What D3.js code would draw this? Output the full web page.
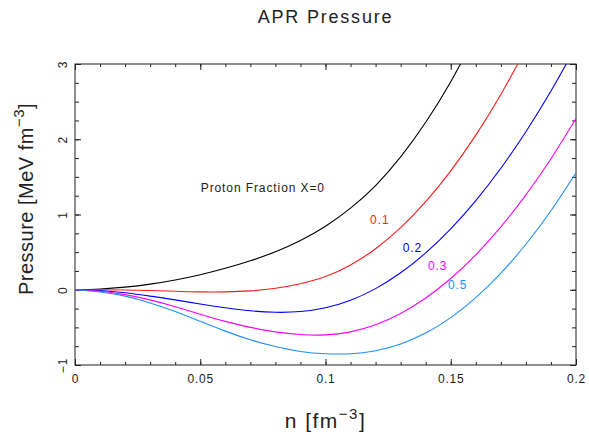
<!DOCTYPE html>
<html>
<head>
<meta charset="utf-8">
<script src="https://cdn.jsdelivr.net/npm/d3@7"></script>
<style>
  body { margin: 0; background: #fff; }
  svg { display: block; font-family: "Liberation Sans", Arial, sans-serif; }
  .axis path { display: none; }
  .axis line { stroke: #222; stroke-width: 1; }
  .axis text { fill: #222; font-size: 12px; letter-spacing: 0.8px; font-family: "Liberation Sans", Arial, sans-serif; }
</style>
</head>
<body>
<svg></svg>
<script>
// density grid, fm^-3
var density = [0, 0.01, 0.02, 0.03, 0.04, 0.05, 0.06, 0.07, 0.08, 0.09, 0.1,
               0.11, 0.12, 0.13, 0.14, 0.15, 0.16, 0.17, 0.18, 0.19, 0.2];

// pressure, MeV fm^-3, one list per proton fraction
var pX0  = [0, 0.01, 0.035, 0.075, 0.13, 0.2, 0.285, 0.385, 0.505, 0.655, 0.845, 1.085, 1.385, 1.765, 2.225, 2.765, 3.385];
var pX01 = [0, 0, -0.003, -0.01, -0.02, -0.028, -0.028, -0.015, 0.02, 0.08, 0.175, 0.33, 0.545, 0.825, 1.17, 1.58, 2.055, 2.595, 3.2];
var pX02 = [0, -0.01, -0.04, -0.085, -0.135, -0.19, -0.24, -0.28, -0.30, -0.29, -0.24, -0.14, 0.015, 0.225, 0.49, 0.81, 1.185, 1.615, 2.1, 2.64, 3.235];
var pX03 = [0, -0.02, -0.065, -0.135, -0.225, -0.325, -0.42, -0.50, -0.56, -0.595, -0.60, -0.56, -0.465, -0.315, -0.11, 0.15, 0.465, 0.835, 1.26, 1.74, 2.275];
var pX05 = [0, -0.03, -0.085, -0.175, -0.29, -0.42, -0.55, -0.665, -0.755, -0.82, -0.85, -0.85, -0.81, -0.72, -0.575, -0.37, -0.105, 0.22, 0.605, 1.05, 1.555];

var fractionLabels = ["Proton Fraction X=0", "0.1", "0.2", "0.3", "0.5"];

var xTicks = [0, 0.05, 0.1, 0.15, 0.2];
var xTickLabels = ["0", "0.05", "0.1", "0.15", "0.2"];
var yTicks = [-1, 0, 1, 2, 3];
var yTickLabels = ["\u22121", "0", "1", "2", "3"];

var width = 589, height = 435;
var plotL = 75, plotR = 576, plotT = 64, plotB = 365;

var svg = d3.select("svg").attr("width", width).attr("height", height);

var x = d3.scaleLinear().domain([0, 0.2]).range([plotL, plotR]);
var y = d3.scaleLinear().domain([-1, 3]).range([plotB, plotT]);

var xMinor = d3.range(0, 0.2001, 0.01);
var yMinor = d3.range(-1, 3.001, 0.25);

// minor ticks (inward)
svg.append("g").attr("class", "axis").attr("transform", "translate(0," + plotB + ")")
    .call(d3.axisBottom(x).tickValues(xMinor).tickSize(-3).tickFormat(""));
svg.append("g").attr("class", "axis").attr("transform", "translate(0," + plotT + ")")
    .call(d3.axisTop(x).tickValues(xMinor).tickSize(-3).tickFormat(""));
svg.append("g").attr("class", "axis").attr("transform", "translate(" + plotL + ",0)")
    .call(d3.axisLeft(y).tickValues(yMinor).tickSize(-4).tickFormat(""));
svg.append("g").attr("class", "axis").attr("transform", "translate(" + plotR + ",0)")
    .call(d3.axisRight(y).tickValues(yMinor).tickSize(-4).tickFormat(""));

// major ticks with labels
svg.append("g").attr("class", "axis").attr("transform", "translate(0," + plotB + ")")
    .call(d3.axisBottom(x).tickValues(xTicks).tickSize(-6).tickPadding(9)
        .tickFormat(function (d, i) { return xTickLabels[i]; }));
svg.append("g").attr("class", "axis").attr("transform", "translate(0," + plotT + ")")
    .call(d3.axisTop(x).tickValues(xTicks).tickSize(-6).tickFormat(""));
var yAxis = svg.append("g").attr("class", "axis").attr("transform", "translate(" + plotL + ",0)")
    .call(d3.axisLeft(y).tickValues(yTicks).tickSize(-6)
        .tickFormat(function (d, i) { return yTickLabels[i]; }));
yAxis.selectAll("text")
    .attr("x", null).attr("dy", null)
    .attr("text-anchor", "middle")
    .attr("transform", "translate(-8,0) rotate(-90)");
svg.append("g").attr("class", "axis").attr("transform", "translate(" + plotR + ",0)")
    .call(d3.axisRight(y).tickValues(yTicks).tickSize(-6).tickFormat(""));

// frame
svg.append("rect")
    .attr("x", plotL).attr("y", plotT)
    .attr("width", plotR - plotL).attr("height", plotB - plotT)
    .attr("fill", "none").attr("stroke", "#222").attr("stroke-width", 1);

svg.append("clipPath").attr("id", "plot")
    .append("rect").attr("x", plotL).attr("y", plotT)
    .attr("width", plotR - plotL).attr("height", plotB - plotT);

var series = [
    { values: pX0,  color: "#000000" },
    { values: pX01, color: "#ff1a1a" },
    { values: pX02, color: "#0000ff" },
    { values: pX03, color: "#ff00ff" },
    { values: pX05, color: "#1e8fff" }
];

var line = d3.line()
    .x(function (d) { return x(d[0]); })
    .y(function (d) { return y(d[1]); })
    .curve(d3.curveNatural);

svg.append("g").attr("clip-path", "url(#plot)")
    .selectAll("path")
    .data(series)
    .enter()
    .append("path")
    .attr("d", function (s) {
        return line(s.values.map(function (v, i) { return [density[i], v]; }));
    })
    .attr("fill", "none")
    .attr("stroke", function (s) { return s.color; })
    .attr("stroke-width", 1.1);

// curve labels
var labelAt = [[0.0502, 1.30], [0.1178, 0.88], [0.1308, 0.50], [0.1409, 0.26], [0.1489, 0.01]];
svg.selectAll("text.curve")
    .data(fractionLabels)
    .enter()
    .append("text")
    .attr("class", "curve")
    .attr("x", function (d, i) { return x(labelAt[i][0]); })
    .attr("y", function (d, i) { return y(labelAt[i][1]); })
    .attr("fill", function (d, i) { return i === 0 ? "#222" : series[i].color; })
    .attr("font-size", 12)
    .attr("letter-spacing", 0.9)
    .text(function (d) { return d; });

// titles
svg.append("text")
    .attr("x", (plotL + plotR) / 2).attr("y", 23)
    .attr("text-anchor", "middle")
    .attr("font-size", 18).attr("letter-spacing", 1.8)
    .attr("fill", "#222")
    .text("APR Pressure");

var xl = svg.append("text")
    .attr("x", (plotL + plotR) / 2).attr("y", 428)
    .attr("text-anchor", "middle")
    .attr("font-size", 21).attr("letter-spacing", 1.5)
    .attr("fill", "#222");
xl.append("tspan").text("n  [fm");
xl.append("tspan").attr("dy", -9).attr("font-size", 15).text("\u22123");
xl.append("tspan").attr("dy", 9).text("]");

var yl = svg.append("text")
    .attr("transform", "translate(33,199) rotate(-90)")
    .attr("text-anchor", "middle")
    .attr("font-size", 20).attr("letter-spacing", 0.5)
    .attr("fill", "#222");
yl.append("tspan").text("Pressure [MeV fm");
yl.append("tspan").attr("dy", -9).attr("font-size", 15).text("\u22123");
yl.append("tspan").attr("dy", 9).text("]");
</script>
</body>
</html>
